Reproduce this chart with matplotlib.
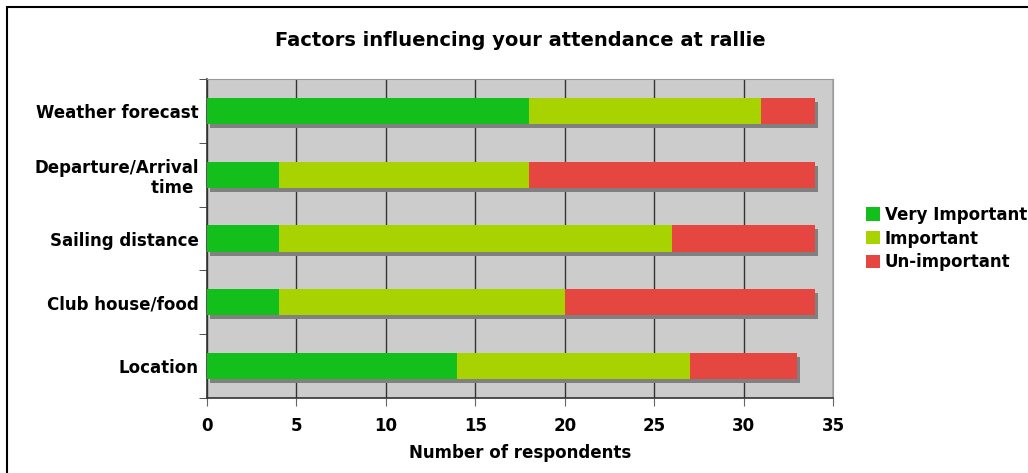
import numpy as np
import matplotlib.pyplot as plt
from matplotlib.patches import Rectangle
from matplotlib.transforms import offset_copy

# data, bottom to top as drawn
categories = ["Location", "Club house/food", "Sailing distance",
              "Departure/Arrival\ntime ", "Weather forecast"]
very_important = [14, 4, 4, 4, 18]
important = [13, 16, 22, 14, 13]
un_important = [6, 14, 8, 16, 3]
series_names = ["Very Important", "Important", "Un-important"]
colors = ["#13bf1b", "#a8d300", "#e64640"]

plt.rcParams["font.family"] = "DejaVu Sans"
plt.rcParams["font.weight"] = "bold"

fig = plt.figure(figsize=(10.28, 4.73), dpi=100)
ax = fig.add_axes([207 / 1028, 75 / 473, 626 / 1028, 319 / 473])
ax.set_facecolor("#cccccc")

y = np.arange(len(categories))
h = 0.41
totals = np.array(very_important) + np.array(important) + np.array(un_important)

# drop shadow behind each stacked bar
shadow_tr = offset_copy(ax.transData, fig=fig, x=3, y=-4, units="dots")
ax.barh(y, totals, height=h, color="#808080", transform=shadow_tr, zorder=2)

left = np.zeros(len(categories))
for vals, name, c in zip([very_important, important, un_important], series_names, colors):
    ax.barh(y, vals, left=left, height=h, color=c, label=name, zorder=3)
    left += np.array(vals)

ax.set_xlim(0, 35)
ax.set_ylim(-0.5, len(categories) - 0.5)
ax.set_xticks(np.arange(0, 36, 5))
ax.xaxis.grid(True, color="#333333", linewidth=1)
ax.set_axisbelow(True)

ax.set_yticks(y)
ax.set_yticklabels(categories, fontsize=12, fontweight="bold", linespacing=1.15)
ax.set_yticks(np.arange(-0.5, len(categories), 1), minor=True)
ax.tick_params(axis="y", which="major", length=0, pad=6)
ax.tick_params(axis="y", which="minor", length=6, color="#333333")
ax.tick_params(axis="x", length=6, color="#666666", pad=8, labelsize=12)
for lbl in ax.get_xticklabels():
    lbl.set_fontweight("bold")

for s in ["top", "right"]:
    ax.spines[s].set_color("#999999")
for s in ["left", "bottom"]:
    ax.spines[s].set_color("#333333")
    ax.spines[s].set_linewidth(1.2)

ax.set_xlabel("Number of respondents", fontsize=12, fontweight="bold", labelpad=6)
ax.set_title("Factors influencing your attendance at rallie", fontsize=14,
             fontweight="bold", pad=24)

fig.legend(loc="upper left", bbox_to_anchor=(859 / 1028, 1 - 199 / 473),
           frameon=False, fontsize=12, handlelength=0.85, handleheight=0.85,
           handletextpad=0.3, labelspacing=0.35, borderaxespad=0)

# outer chart border, cut off on the right and bottom
fig.patches.append(Rectangle((7 / 1028, -0.1), 1.2, 1.1 - 7 / 473, fill=False,
                             edgecolor="black", linewidth=1.5,
                             transform=fig.transFigure, figure=fig))

fig.savefig("out.png", dpi=100)
